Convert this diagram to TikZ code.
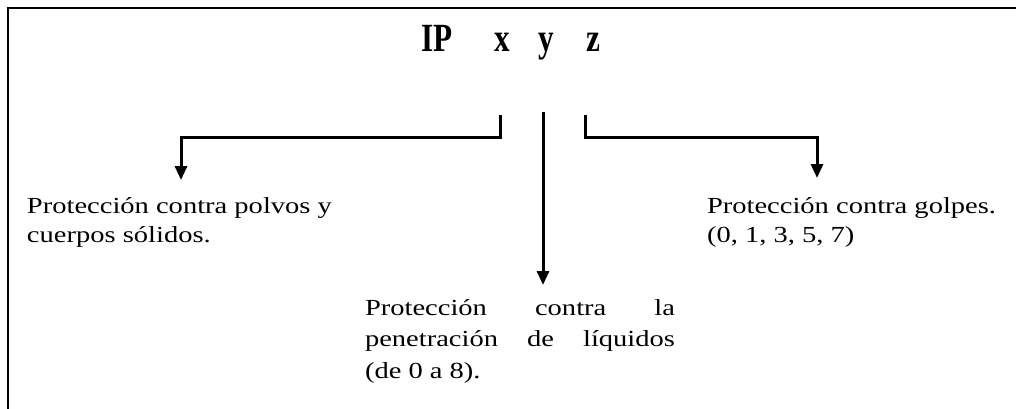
\documentclass[tikz,border=0pt]{standalone}
\usepackage{fontspec}
\setmainfont{Liberation Serif}
\newfontfamily\pixserif[FakeStretch=1.24]{Liberation Serif}
\newfontfamily\titleserif[FakeStretch=0.78]{Liberation Serif}
\usetikzlibrary{arrows.meta}
\begin{document}
\begin{tikzpicture}[x=1pt,y=-1pt,
  conn/.style={line width=3pt,-{Triangle[width=12pt,length=14pt]}},
  frameline/.style={line width=2.5pt},
  lbl/.style={inner sep=0pt,outer sep=0pt,align=left,font=\pixserif\fontsize{23}{29}\selectfont}]
\useasboundingbox[fill=white] (0,0) rectangle (1016,409);
% frame (top and left edges visible)
\draw[frameline] (8,430) -- (8,8) -- (1030,8);
% title
\node[inner sep=0pt,anchor=base west,font=\titleserif\bfseries\fontsize{40}{40}\selectfont] (title) at (421,52) {IP\hspace{42pt}x\hspace{29pt}y\hspace{32pt}z};
% stub tops
\coordinate (sx) at (500,115);
\coordinate (sy) at (543,112);
\coordinate (sz) at (585,115);
% text nodes (base anchor = baseline of last line)
\node[lbl,anchor=base west] (tx) at (27,242) {Protección contra polvos y\\cuerpos sólidos.};
\node[lbl,anchor=base west,font=\pixserif\fontsize{23}{31.5}\selectfont] (ty) at (365,378) {\makebox[310pt][s]{Protección contra la}\\\makebox[310pt][s]{penetración de líquidos}\\(de 0 a 8).};
\node[lbl,anchor=base west] (tz) at (707,242) {Protección contra golpes.\\(0, 1, 3, 5, 7)};
% arrow tips
\coordinate (ax) at (181,180);
\coordinate (ay) at (543,285);
\coordinate (az) at (817,178);
% connectors
\draw[conn] (sx) -- (sx |- 0,137) -| (ax);
\draw[conn] (sy) -- (ay);
\draw[conn] (sz) -- (sz |- 0,137) -| (az);
\end{tikzpicture}
\end{document}
